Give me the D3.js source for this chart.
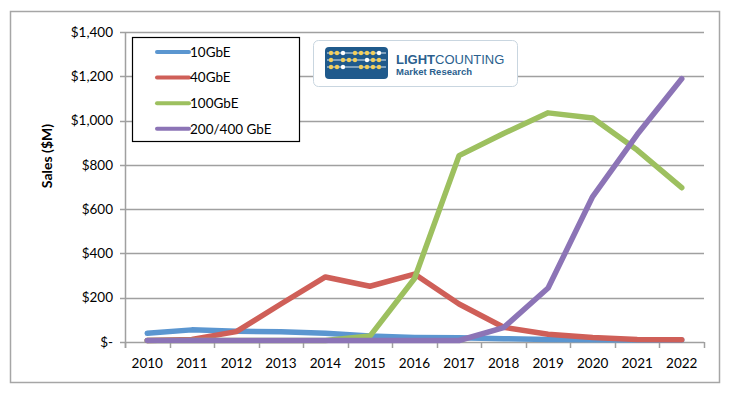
<!DOCTYPE html>
<html>
<head>
<meta charset="utf-8">
<script src="https://cdn.jsdelivr.net/npm/d3@7"></script>
<style>
  body { margin: 0; background: #fff; }
  svg { font-family: Lato, "Open Sans", sans-serif; }
</style>
</head>
<body>
<script>
// data ($M)
var years = ["2010","2011","2012","2013","2014","2015","2016","2017","2018","2019","2020","2021","2022"];
var s10 = [33, 48, 42, 40, 33, 20, 14, 12, 8, 5, 3, 2, 2];
var s40 = [0, 5, 40, 165, 287, 245, 300, 165, 60, 28, 14, 5, 3];
var s100 = [0, 0, 0, 0, 0, 20, 280, 835, 935, 1028, 1005, 860, 690];
var s200 = [0, 0, 0, 0, 0, 0, 0, 0, 58, 237, 650, 930, 1182];
var seriesNames = ["10GbE", "40GbE", "100GbE", "200/400 GbE"];
var yTicks = [0, 200, 400, 600, 800, 1000, 1200, 1400];

var colors = ["#5b96d0", "#cf5f58", "#9dc05f", "#8c74b6"];
var series = [s10, s40, s100, s200];

var W = 732, H = 394;
var margin = {top: 32, right: 28, bottom: 52, left: 125};
var width = 704 - margin.left,
    height = 342 - margin.top;

var svg = d3.select("body").append("svg")
    .attr("width", W)
    .attr("height", H);

// outer frame
svg.append("rect")
    .attr("x", 10.5).attr("y", 11.5)
    .attr("width", 709).attr("height", 371)
    .attr("fill", "#fff")
    .attr("stroke", "#a6a6a6")
    .attr("stroke-width", 1.5);

var g = svg.append("g")
    .attr("transform", "translate(" + margin.left + "," + margin.top + ")");

var x = d3.scaleBand().domain(years).range([0, width]);
var y = d3.scaleLinear().domain([0, 1400]).range([height, 0]);

// gridlines
g.append("g")
    .selectAll("line")
    .data(yTicks)
    .enter().append("line")
    .attr("x1", -5).attr("x2", width)
    .attr("y1", function(d) { return Math.round(y(d)) + 0.5; })
    .attr("y2", function(d) { return Math.round(y(d)) + 0.5; })
    .attr("stroke", "#a0a0a0")
    .attr("stroke-width", 1.5);

// y axis line
g.append("line")
    .attr("x1", 0.5).attr("x2", 0.5)
    .attr("y1", 0).attr("y2", height + 6)
    .attr("stroke", "#a0a0a0").attr("stroke-width", 1.5);

// y labels
g.append("g")
    .selectAll("text")
    .data(yTicks)
    .enter().append("text")
    .attr("x", -12)
    .attr("y", function(d) { return y(d); })
    .attr("dy", "0.35em")
    .attr("text-anchor", "end")
    .style("font-size", "13.5px")
    .style("fill", "#000")
    .text(function(d) { return d === 0 ? "$-" : "$" + d3.format(",")(d); });

// x axis ticks at band edges
var xEdges = years.map(function(d) { return x(d); }).concat([width]);
g.append("g")
    .selectAll("line")
    .data(xEdges)
    .enter().append("line")
    .attr("x1", function(d) { return Math.round(d) + 0.5; })
    .attr("x2", function(d) { return Math.round(d) + 0.5; })
    .attr("y1", height).attr("y2", height + 6)
    .attr("stroke", "#a0a0a0").attr("stroke-width", 1.5);

g.append("g")
    .selectAll("text")
    .data(years)
    .enter().append("text")
    .attr("x", function(d) { return x(d) + x.bandwidth() / 2; })
    .attr("y", height + 21)
    .attr("dy", "0.35em")
    .attr("text-anchor", "middle")
    .style("font-size", "13.5px")
    .text(function(d) { return d; });

// y axis title
svg.append("text")
    .attr("transform", "translate(47," + (margin.top + height / 2 - 31) + ") rotate(-90)")
    .attr("text-anchor", "middle")
    .attr("dy", "0.35em")
    .style("font-size", "14px")
    .style("font-weight", "bold")
    .text("Sales ($M)");

// lines
var line = d3.line()
    .x(function(d, i) { return x(years[i]) + x.bandwidth() / 2; })
    .y(function(d) { return y(d) - 1.5; });

series.forEach(function(s, i) {
    g.append("path")
        .datum(s)
        .attr("fill", "none")
        .attr("stroke", colors[i])
        .attr("stroke-width", 5.5)
        .attr("stroke-linejoin", "round")
        .attr("stroke-linecap", "round")
        .attr("d", line);
});

// legend
var leg = svg.append("g").attr("transform", "translate(132,37)");
leg.append("rect")
    .attr("x", 0.5).attr("y", 0.5)
    .attr("width", 167).attr("height", 104)
    .attr("fill", "#fff")
    .attr("stroke", "#000")
    .attr("stroke-width", 1.2);
seriesNames.forEach(function(n, i) {
    var yy = 15 + i * 25.6;
    leg.append("line")
        .attr("x1", 25).attr("x2", 57)
        .attr("y1", yy).attr("y2", yy)
        .attr("stroke", colors[i])
        .attr("stroke-width", 4)
        .attr("stroke-linecap", "round");
    leg.append("text")
        .attr("x", 58).attr("y", yy)
        .attr("dy", "0.35em")
        .style("font-size", "13.5px")
        .text(n);
});

// logo
var logo = svg.append("g").attr("transform", "translate(313,40)");
logo.append("rect")
    .attr("x", 0.5).attr("y", 0.5)
    .attr("width", 204).attr("height", 46)
    .attr("rx", 5)
    .attr("fill", "#fff")
    .attr("stroke", "#c9d6e0");
logo.append("rect")
    .attr("x", 12).attr("y", 7)
    .attr("width", 63).attr("height", 32)
    .attr("rx", 4)
    .attr("fill", "#1f5a8c");
[13, 20, 27].forEach(function(ry) {
    logo.append("line")
        .attr("x1", 14).attr("x2", 73)
        .attr("y1", ry).attr("y2", ry)
        .attr("stroke", "#dfe8f0").attr("stroke-width", 1);
});
var dots = [[18,13],[24,13],[30,13],[42,13],[48,13],[54,13],[60,13],[66,13],
            [18,20],[30,20],[36,20],[42,20],[54,20],[60,20],[66,20],
            [18,27],[24,27],[30,27],[48,27],[54,27],[60,27],[66,27]];
logo.selectAll("circle")
    .data(dots)
    .enter().append("circle")
    .attr("cx", function(d) { return d[0]; })
    .attr("cy", function(d) { return d[1]; })
    .attr("r", 2.2)
    .attr("fill", function(d, i) { return (i % 5 === 2) ? "#ffffff" : "#f2cf5b"; });
var t1 = logo.append("text")
    .attr("x", 83).attr("y", 24)
    .style("font-family", "'Liberation Sans', Arial, sans-serif")
    .style("font-size", "13px")
    .style("fill", "#2b5f8e");
t1.append("tspan").style("font-weight", "bold").text("LIGHT");
t1.append("tspan").text("COUNTING");
logo.append("text")
    .attr("x", 83).attr("y", 35)
    .style("font-family", "'Liberation Sans', Arial, sans-serif")
    .style("font-size", "9.5px")
    .style("font-weight", "bold")
    .style("fill", "#2b5f8e")
    .text("Market Research");
</script>
</body>
</html>
